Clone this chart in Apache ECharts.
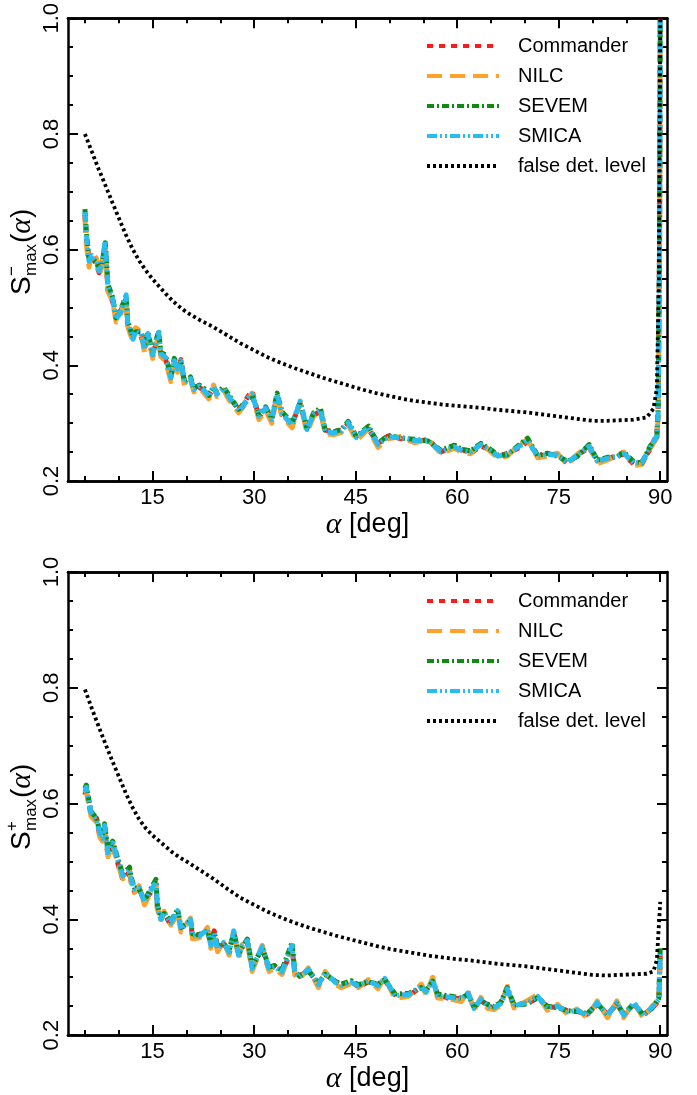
<!DOCTYPE html>
<html><head><meta charset="utf-8">
<script src="https://cdn.jsdelivr.net/npm/echarts@6/dist/echarts.min.js"></script>
<style>html,body{margin:0;padding:0;background:#fff}#c{width:697px;height:1095px}</style>
</head><body><div id="c"></div>
<script>
// ---------- data: upper panel (S-max) ----------
const alphaMinus = [5,5.2,5.6,6,6.7,7.1,7.5,8,8.4,9.1,9.6,10.2,11.1,11.3,12.1,12.5,13.3,13.8,14.3,15,15.9,16.2,16.9,17.7,18.2,18.7,19.2,19.7,20.6,21.1,21.9,22.6,23.3,24,24.5,25.5,26.3,27,27.7,28.2,29.2,29.7,30.7,31.7,32.6,33.4,34.1,35.6,36.8,37.8,38.8,39.8,40.5,41.7,42.9,43.9,45.1,46.9,48.3,49.8,51.8,53.7,55.7,57.6,59.6,60.6,62,63.5,65,66,67.4,68.9,70.4,71.9,73.3,74.8,76.3,77.7,79.5,80.7,82.2,83.6,84.6,86.1,87.3,88.5,89.5,89.7,89.9,90];
const commanderMinus = [0.66,0.62,0.585,0.588,0.575,0.56,0.578,0.605,0.53,0.51,0.485,0.492,0.515,0.47,0.448,0.462,0.45,0.43,0.45,0.42,0.45,0.418,0.41,0.382,0.405,0.39,0.41,0.372,0.375,0.36,0.362,0.356,0.348,0.36,0.352,0.358,0.343,0.335,0.325,0.33,0.348,0.356,0.31,0.324,0.308,0.346,0.315,0.298,0.334,0.29,0.314,0.32,0.288,0.285,0.288,0.298,0.276,0.29,0.265,0.278,0.273,0.268,0.272,0.25,0.261,0.255,0.248,0.26,0.254,0.242,0.248,0.256,0.268,0.245,0.244,0.247,0.23,0.245,0.257,0.236,0.237,0.245,0.246,0.229,0.233,0.255,0.28,0.33,0.62,1.0];
const nilcMinus = [0.655,0.61,0.57,0.595,0.585,0.555,0.57,0.608,0.528,0.51,0.475,0.485,0.518,0.468,0.44,0.465,0.458,0.422,0.452,0.412,0.452,0.415,0.408,0.372,0.41,0.388,0.405,0.365,0.375,0.354,0.36,0.352,0.342,0.366,0.346,0.357,0.34,0.33,0.318,0.325,0.342,0.352,0.306,0.322,0.3,0.347,0.312,0.292,0.335,0.284,0.312,0.32,0.282,0.28,0.284,0.298,0.27,0.29,0.258,0.273,0.277,0.266,0.272,0.247,0.257,0.25,0.247,0.266,0.25,0.24,0.243,0.26,0.272,0.24,0.243,0.248,0.228,0.246,0.262,0.23,0.236,0.245,0.25,0.227,0.229,0.256,0.275,0.31,0.58,1.0];
const sevemMinus = [0.67,0.632,0.585,0.585,0.578,0.568,0.572,0.612,0.54,0.518,0.482,0.494,0.52,0.478,0.447,0.458,0.458,0.432,0.458,0.42,0.46,0.422,0.418,0.38,0.412,0.396,0.405,0.372,0.38,0.36,0.366,0.36,0.348,0.362,0.353,0.362,0.348,0.336,0.324,0.329,0.343,0.348,0.314,0.328,0.308,0.352,0.32,0.3,0.336,0.291,0.318,0.326,0.288,0.285,0.289,0.303,0.277,0.295,0.265,0.279,0.274,0.272,0.269,0.253,0.262,0.255,0.252,0.265,0.254,0.245,0.245,0.26,0.274,0.244,0.248,0.243,0.234,0.242,0.263,0.236,0.241,0.241,0.25,0.233,0.231,0.26,0.276,0.325,0.61,1.0];
const smicaMinus = [0.665,0.627,0.58,0.59,0.58,0.563,0.575,0.615,0.535,0.515,0.48,0.49,0.522,0.475,0.445,0.46,0.455,0.428,0.455,0.418,0.457,0.42,0.414,0.378,0.408,0.394,0.408,0.37,0.377,0.358,0.364,0.357,0.346,0.364,0.35,0.36,0.345,0.334,0.322,0.327,0.345,0.35,0.312,0.326,0.306,0.35,0.317,0.297,0.338,0.289,0.316,0.323,0.286,0.283,0.286,0.301,0.275,0.293,0.263,0.276,0.275,0.27,0.27,0.251,0.259,0.253,0.25,0.263,0.252,0.243,0.246,0.258,0.27,0.243,0.246,0.245,0.232,0.244,0.26,0.234,0.239,0.243,0.248,0.231,0.232,0.258,0.278,0.32,0.6,1.0];
const falseAlphaMinus = [5,6,7,8,9,10,11,12,13,14,15,16,17,18,19,20,22,24,26,28,30,32,34,36,38,40,42,44,46,48,50,52,54,56,58,60,62,64,66,68,70,72,74,76,78,80,82,84,86,88,89,89.5,89.8,90];
const falseMinus = [0.80,0.77,0.74,0.712,0.683,0.655,0.627,0.602,0.581,0.564,0.549,0.536,0.523,0.511,0.501,0.492,0.478,0.466,0.452,0.438,0.426,0.414,0.404,0.395,0.387,0.379,0.372,0.365,0.358,0.352,0.347,0.342,0.338,0.335,0.332,0.33,0.328,0.326,0.323,0.321,0.319,0.316,0.313,0.31,0.307,0.304,0.304,0.305,0.306,0.31,0.325,0.36,0.55,1.0];

// ---------- data: lower panel (S+max) ----------
const alphaPlus = [5,5.2,5.9,6.7,7.2,7.6,7.9,8.4,9.1,9.9,10.6,11.6,11.8,12.3,13,13.8,14.7,15.5,15.7,16.2,16.7,17.7,18.7,19.2,20.6,20.9,21.9,23.1,23.6,24.1,24.6,25.5,26.3,27,27.7,28.2,29,29.7,31.2,32.2,33,34.1,35.6,36,36.7,38,39.5,40.5,42,42.9,44.4,45.4,46.9,48.3,49.3,50.8,52.8,54.7,55.4,56.4,57.1,59.1,60.6,61.6,62.5,63.5,64.5,65.4,66.4,67.4,68.4,70.4,71.9,73.3,74.8,76.3,77.7,79.2,80.7,82.2,83.6,84.6,86.1,87.5,88.8,89.8,90];
const commanderPlus = [0.615,0.625,0.58,0.575,0.545,0.536,0.558,0.51,0.528,0.495,0.468,0.482,0.466,0.448,0.452,0.432,0.446,0.46,0.42,0.402,0.41,0.39,0.412,0.385,0.398,0.368,0.374,0.38,0.358,0.38,0.352,0.357,0.34,0.376,0.34,0.352,0.36,0.318,0.35,0.312,0.32,0.306,0.35,0.31,0.302,0.312,0.29,0.305,0.293,0.284,0.293,0.283,0.292,0.287,0.295,0.27,0.268,0.283,0.276,0.292,0.27,0.262,0.264,0.27,0.248,0.26,0.252,0.245,0.256,0.275,0.252,0.255,0.264,0.249,0.248,0.242,0.241,0.236,0.253,0.236,0.253,0.237,0.253,0.235,0.246,0.26,0.34];
const nilcPlus = [0.618,0.622,0.578,0.568,0.542,0.535,0.56,0.508,0.53,0.494,0.47,0.484,0.465,0.446,0.458,0.425,0.445,0.462,0.418,0.396,0.414,0.39,0.412,0.378,0.402,0.366,0.368,0.386,0.35,0.372,0.344,0.362,0.338,0.382,0.332,0.356,0.36,0.31,0.355,0.31,0.316,0.305,0.35,0.304,0.296,0.316,0.282,0.31,0.287,0.282,0.289,0.282,0.296,0.28,0.3,0.263,0.267,0.288,0.27,0.3,0.264,0.262,0.258,0.276,0.242,0.265,0.246,0.244,0.251,0.284,0.247,0.26,0.27,0.243,0.253,0.236,0.245,0.23,0.259,0.23,0.259,0.23,0.258,0.229,0.25,0.26,0.34];
const sevemPlus = [0.626,0.632,0.586,0.575,0.552,0.543,0.565,0.518,0.535,0.503,0.478,0.49,0.473,0.455,0.452,0.433,0.452,0.469,0.425,0.403,0.41,0.397,0.417,0.386,0.397,0.375,0.373,0.38,0.358,0.378,0.352,0.358,0.346,0.377,0.341,0.351,0.366,0.318,0.35,0.318,0.32,0.312,0.36,0.311,0.302,0.311,0.29,0.305,0.293,0.288,0.294,0.287,0.292,0.288,0.296,0.271,0.272,0.282,0.277,0.293,0.271,0.267,0.264,0.27,0.249,0.259,0.253,0.249,0.256,0.282,0.252,0.254,0.265,0.25,0.248,0.242,0.241,0.237,0.254,0.236,0.254,0.236,0.254,0.235,0.246,0.264,0.35];
const smicaPlus = [0.62,0.628,0.584,0.572,0.549,0.54,0.562,0.515,0.532,0.50,0.475,0.486,0.47,0.452,0.455,0.43,0.449,0.465,0.423,0.40,0.412,0.394,0.415,0.383,0.40,0.372,0.371,0.383,0.355,0.376,0.349,0.36,0.343,0.38,0.338,0.354,0.363,0.315,0.353,0.315,0.318,0.309,0.355,0.309,0.30,0.314,0.287,0.308,0.291,0.286,0.291,0.285,0.294,0.285,0.298,0.268,0.27,0.285,0.274,0.296,0.268,0.265,0.262,0.273,0.246,0.262,0.25,0.247,0.254,0.28,0.25,0.257,0.267,0.247,0.25,0.24,0.243,0.234,0.256,0.234,0.256,0.234,0.256,0.233,0.248,0.262,0.345];
const falseAlphaPlus = [5,6,7,8,9,10,11,12,13,14,15,16,17,18,19,20,22,24,26,28,30,32,34,36,38,40,42,44,46,48,50,52,54,56,58,60,62,64,66,68,70,72,74,76,78,80,82,84,86,88,89,89.5,90];
const falsePlus = [0.797,0.765,0.734,0.704,0.675,0.647,0.619,0.594,0.573,0.557,0.545,0.535,0.525,0.515,0.507,0.50,0.485,0.47,0.453,0.437,0.425,0.413,0.403,0.394,0.386,0.379,0.372,0.366,0.36,0.354,0.349,0.345,0.341,0.337,0.334,0.331,0.329,0.326,0.323,0.321,0.319,0.316,0.313,0.31,0.307,0.304,0.303,0.304,0.305,0.306,0.31,0.33,0.43];

// ---------- ticks ----------
const xMajorTicks = [15,30,45,60,75,90];
const xMinorTicks = [5,10,20,25,35,40,50,55,65,70,80,85];
const seriesNames = ['Commander','NILC','SEVEM','SMICA','false det. level'];

const FONT = 'Liberation Sans';
const BLACK = '#000';
const styles = {
  'Commander': {color:'#ff1a1a', width:5, type:[6,6]},
  'NILC': {color:'#ffa22b', width:5, type:[15,8]},
  'SEVEM': {color:'#118a11', width:5, type:[7,3,2,3]},
  'SMICA': {color:'#27bdf2', width:5, type:[10,3,2,3,2,3]},
  'false det. level': {color:'#000', width:3.8, type:[3,3]}
};
const zip = (xs, ys) => xs.map((x,i)=>[x, ys[i]]);

const grids = [
  {left:68, right:30, top:17, height:464},
  {left:68, right:30, top:572, height:464}
];
const lineW = {color:BLACK, width:2.5};
const tickW = {color:BLACK, width:2};

let xAxis = [], yAxis = [];
grids.forEach((g, gi) => {
  const base = {type:'value', gridIndex:gi, min:2.5, max:91, splitLine:{show:false},
    axisLine:{show:true, onZero:false, lineStyle:lineW}, axisPointer:{show:false}};
  xAxis.push({...base, position:'bottom',
    name:'{a|α} [deg]', nameLocation:'middle', nameGap:28,
    nameTextStyle:{fontFamily:FONT, fontSize:27, color:BLACK,
      rich:{a:{fontFamily:'Liberation Serif', fontStyle:'italic', fontSize:30, color:BLACK}}},
    axisTick:{show:true, inside:true, length:10, customValues:xMajorTicks, lineStyle:tickW},
    axisLabel:{show:true, customValues:xMajorTicks, fontFamily:FONT, fontSize:22, color:BLACK, margin:6}});
  xAxis.push({...base, position:'bottom',
    axisTick:{show:true, inside:true, length:5, customValues:xMinorTicks, lineStyle:tickW},
    axisLabel:{show:false}});
  xAxis.push({...base, position:'top',
    axisTick:{show:true, inside:true, length:10, customValues:xMajorTicks, lineStyle:tickW},
    axisLabel:{show:false}});
  xAxis.push({...base, position:'top',
    axisTick:{show:true, inside:true, length:5, customValues:xMinorTicks, lineStyle:tickW},
    axisLabel:{show:false}});
  const ybase = {type:'value', gridIndex:gi, min:0.2, max:1.0, interval:0.2, splitLine:{show:false},
    axisLine:{show:true, onZero:false, lineStyle:lineW},
    axisTick:{show:true, inside:true, length:10, lineStyle:tickW},
    minorTick:{show:true, splitNumber:4, length:5, lineStyle:tickW}, minorSplitLine:{show:false}};
  yAxis.push({...ybase, position:'left',
    axisLabel:{show:true, rotate:90, fontFamily:FONT, fontSize:22, color:BLACK, margin:5,
      formatter:v=>v.toFixed(1)}});
  yAxis.push({...ybase, position:'right', axisLabel:{show:false}});
});

const panelData = [
  {alpha:alphaMinus, fa:falseAlphaMinus, vals:{'Commander':commanderMinus,'NILC':nilcMinus,'SEVEM':sevemMinus,'SMICA':smicaMinus}, fv:falseMinus},
  {alpha:alphaPlus, fa:falseAlphaPlus, vals:{'Commander':commanderPlus,'NILC':nilcPlus,'SEVEM':sevemPlus,'SMICA':smicaPlus}, fv:falsePlus}
];
let series = [];
panelData.forEach((p, gi) => {
  seriesNames.forEach(name => {
    const st = styles[name];
    const data = name === 'false det. level' ? zip(p.fa, p.fv) : zip(p.alpha, p.vals[name]);
    series.push({type:'line', name, xAxisIndex:gi*4, yAxisIndex:gi*2, data,
      showSymbol:false, symbol:'none', smooth:false, animation:false,
      lineStyle:{color:st.color, width:st.width, type:st.type, cap:'butt', join:'round'},
      itemStyle:{color:st.color}, z: name === 'false det. level' ? 3 : 2});
  });
});

const legendBase = {orient:'vertical', left:420, itemWidth:72, itemHeight:14, itemGap:10,
  itemStyle:{opacity:0}, lineStyle:{width:4},
  textStyle:{fontFamily:FONT, fontSize:20, color:BLACK, lineHeight:20, padding:[0,0,0,14]},
  data:seriesNames, selectedMode:false};

function yName(cx, cy, sign) {
  return {type:'group', x:cx, y:cy, rotation:Math.PI/2, children:[
    {type:'text', x:0, y:0, style:{text:'S', fontFamily:FONT, fontSize:28, fill:BLACK, align:'left', verticalAlign:'middle'}},
    {type:'text', x:19, y:-10, style:{text:sign, fontFamily:FONT, fontSize:17, fill:BLACK, align:'left', verticalAlign:'middle'}},
    {type:'text', x:19, y:9, style:{text:'max', fontFamily:FONT, fontSize:17, fill:BLACK, align:'left', verticalAlign:'middle'}},
    {type:'text', x:52, y:0, style:{text:'({a|α})', fontFamily:FONT, fontSize:28, fill:BLACK, align:'left', verticalAlign:'middle',
      rich:{a:{fontFamily:'Liberation Serif', fontStyle:'italic', fontSize:30, fill:BLACK}}}}
  ]};
}

const chart = echarts.init(document.getElementById('c'), null, {renderer:'canvas'});
chart.setOption({
  animation:false,
  backgroundColor:'#fff',
  grid:grids,
  xAxis, yAxis, series,
  legend:[{...legendBase, top:31}, {...legendBase, top:586}],
  graphic:[yName(22, 295, '−'), yName(22, 850, '+')]
});
</script></body></html>
